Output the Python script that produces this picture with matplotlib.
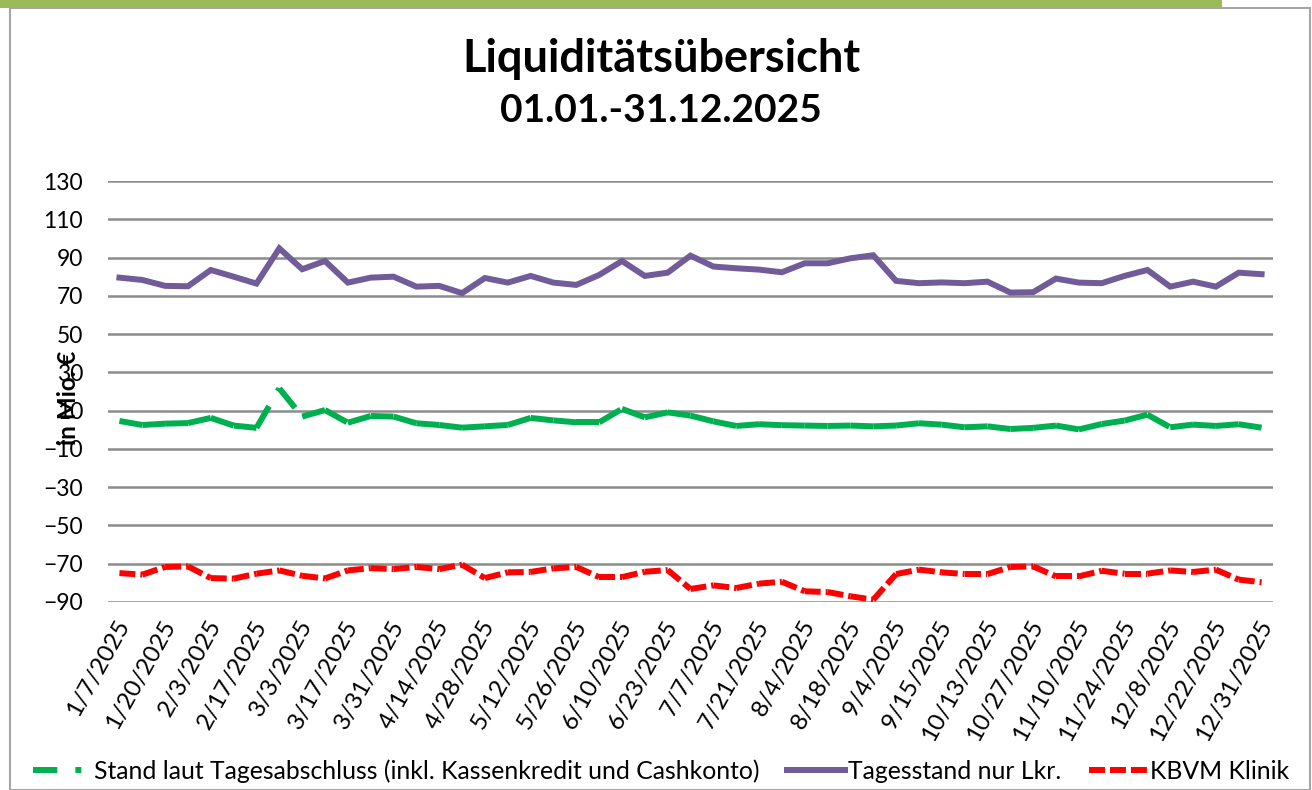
import matplotlib
matplotlib.use("Agg")
import matplotlib.pyplot as plt
from matplotlib.collections import LineCollection
from matplotlib.lines import Line2D
from matplotlib.patches import Rectangle
import matplotlib.transforms as mtransforms
import numpy as np

plt.rcParams['font.family'] = ['Lato', 'DejaVu Sans']
plt.rcParams['lines.scale_dashes'] = False

# Stichtage (jede zweite Beschriftung wird angezeigt)
dates = ["1/7/2025", "1/13/2025", "1/20/2025", "1/27/2025", "2/3/2025", "2/10/2025",
         "2/17/2025", "2/24/2025", "3/3/2025", "3/10/2025", "3/17/2025", "3/24/2025",
         "3/31/2025", "4/7/2025", "4/14/2025", "4/22/2025", "4/28/2025", "5/5/2025",
         "5/12/2025", "5/19/2025", "5/26/2025", "6/2/2025", "6/10/2025", "6/16/2025",
         "6/23/2025", "6/30/2025", "7/7/2025", "7/14/2025", "7/21/2025", "7/28/2025",
         "8/4/2025", "8/11/2025", "8/18/2025", "8/25/2025", "9/4/2025", "9/8/2025",
         "9/15/2025", "9/29/2025", "10/13/2025", "10/20/2025", "10/27/2025", "11/3/2025",
         "11/10/2025", "11/17/2025", "11/24/2025", "12/1/2025", "12/8/2025", "12/15/2025",
         "12/22/2025", "12/29/2025", "12/31/2025"]

# Stand laut Tagesabschluss (inkl. Kassenkredit und Cashkonto), Mio. €
stand_tagesabschluss = [4.6, 2.5, 3.2, 3.5, 6.2, 2.2, 1.0, 21.6, 6.9, 10.3,
                        3.7, 7.2, 6.9, 3.4, 2.5, 1.1, 1.8, 2.5, 6.2, 4.9,
                        3.9, 3.9, 10.9, 6.5, 9.1, 7.4, 4.4, 2.0, 2.9, 2.4,
                        2.2, 2.0, 2.2, 1.8, 2.2, 3.4, 2.7, 1.3, 1.8, 0.4,
                        1.0, 2.2, 0.2, 3.0, 4.8, 7.9, 1.3, 2.7, 2.0, 2.9, 1.1]

# Tagesstand nur Lkr., Mio. €
tagesstand_lkr = [79.5, 78.3, 75.2, 75.0, 83.5, 80.0, 76.4, 94.8, 83.9, 88.2,
                  76.9, 79.5, 80.0, 74.8, 75.2, 71.4, 79.3, 76.9, 80.4, 76.9,
                  75.7, 80.9, 88.2, 80.4, 82.1, 91.0, 85.3, 84.4, 83.7, 82.3,
                  87.0, 87.0, 89.6, 91.2, 77.8, 76.6, 77.0, 76.6, 77.4, 71.7,
                  71.9, 79.0, 76.9, 76.6, 80.4, 83.5, 74.8, 77.4, 74.8, 82.1, 81.3]

# KBVM Klinik, Mio. €
kbvm_klinik = [-74.9, -75.7, -71.7, -71.4, -77.5, -77.8, -75.2, -73.5, -76.3, -77.7,
               -73.5, -72.3, -72.8, -71.7, -72.8, -70.5, -77.5, -74.5, -74.3, -72.4,
               -71.7, -77.0, -77.0, -74.2, -73.3, -83.2, -81.3, -82.7, -80.4, -79.4,
               -84.4, -84.8, -87.0, -88.8, -75.4, -73.1, -74.5, -75.4, -75.4, -71.7,
               -71.4, -76.6, -76.6, -73.7, -75.2, -75.2, -73.5, -74.3, -73.1, -78.3, -79.7]

y_ticks = list(range(-90, 131, 20))

GREEN = "#00B050"
PURPLE = "#715C99"
RED = "#FF0000"
GRID = "#8C8C8C"

W, H = 1312, 790
fig = plt.figure(figsize=(W / 100, H / 100), dpi=100)

# Rahmen und Kopfbalken
fig.patches.append(Rectangle((10 / W, 0), 1300 / W, 1 - 8 / H, transform=fig.transFigure,
                             fill=False, edgecolor="#A6A6A6", linewidth=1.5, zorder=0))
fig.patches.append(Rectangle((0, 1 - 8 / H), 1222 / W, 8 / H, transform=fig.transFigure,
                             facecolor="#9BBB59", edgecolor="none", zorder=1))

ax = fig.add_axes([108 / W, 1 - 602 / H, (1273 - 108) / W, (602 - 181) / H])
x = np.arange(len(dates))

def segments(values):
    pts = np.column_stack([x, values])
    return np.stack([pts[:-1], pts[1:]], axis=1)

lw = 4.3
green_dash = (0, (18, 12.5))
red_dash = (0, (11.5, 3.6))

ax.add_collection(LineCollection(segments(stand_tagesabschluss), colors=GREEN,
                                 linewidths=lw, linestyles=[green_dash], capstyle="butt",
                                 zorder=3))
ax.plot(x, tagesstand_lkr, color=PURPLE, linewidth=lw, zorder=3, solid_joinstyle="miter")
ax.add_collection(LineCollection(segments(kbvm_klinik), colors=RED,
                                 linewidths=lw, linestyles=[red_dash], capstyle="butt",
                                 zorder=3))

ax.set_xlim(-0.5, len(dates) - 0.5)
ax.set_ylim(-90, 130)
ax.set_yticks(y_ticks)
ax.grid(axis="y", color=GRID, linewidth=1.8)
ax.set_axisbelow(True)
for s in ax.spines.values():
    s.set_visible(False)
ax.tick_params(length=0, colors="black")
ax.tick_params(axis="y", pad=18, labelsize=16.5)
ax.tick_params(axis="x", pad=14, labelsize=17.5)

ax.set_xticks(x[::2])
ax.set_xticklabels(dates[::2])
offset = mtransforms.ScaledTranslation(5 / 100, 0, fig.dpi_scale_trans)
for lab in ax.get_xticklabels():
    lab.set_rotation(61)
    lab.set_rotation_mode("anchor")
    lab.set_ha("right")
    lab.set_va("center")
    lab.set_transform(lab.get_transform() + offset)

fig.text(68 / W, 1 - 398 / H, "in Mio. €", rotation=90, ha="center", va="center",
         fontsize=17.5, fontweight="bold")

fig.text(661 / W, 1 - 72 / H, "Liquiditätsübersicht", ha="center", va="baseline",
         fontsize=32.5, fontweight="bold")
fig.text(661 / W, 1 - 122 / H, "01.01.-31.12.2025", ha="center", va="baseline",
         fontsize=28, fontweight="bold")

handles = [
    Line2D([], [], color=GREEN, linewidth=lw, dashes=(17.5, 13, 4.3, 30), dash_capstyle="butt"),
    Line2D([], [], color=PURPLE, linewidth=lw),
    Line2D([], [], color=RED, linewidth=lw, dashes=(11.5, 3.6), dash_capstyle="butt"),
]
labels = ["Stand laut Tagesabschluss (inkl. Kassenkredit und Cashkonto)",
          "Tagesstand nur Lkr.", "KBVM Klinik"]
fig.legend(handles, labels, loc="center", bbox_to_anchor=(661 / W, 1 - 771 / H), ncol=3,
           frameon=False, fontsize=17.8, handlelength=2.35, handletextpad=0.12,
           columnspacing=1.1, borderpad=0, borderaxespad=0)

fig.savefig("out.png", dpi=100)
